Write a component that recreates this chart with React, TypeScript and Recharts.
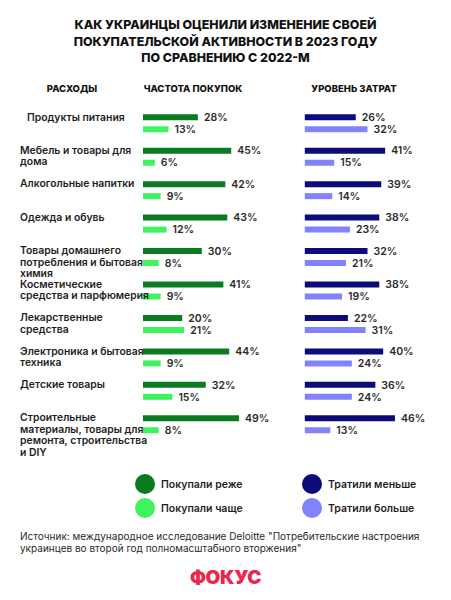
import { BarChart, Bar, XAxis, YAxis, LabelList } from "recharts";

const categories = [
  "Продукты питания",
  "Мебель и товары для\nдома",
  "Алкогольные напитки",
  "Одежда и обувь",
  "Товары домашнего\nпотребления и бытовая\nхимия",
  "Косметические\nсредства и парфюмерия",
  "Лекарственные\nсредства",
  "Электроника и бытовая\nтехника",
  "Детские товары",
  "Строительные\nматериалы, товары для\nремонта, строительства\nи DIY",
];

const boughtLess = [28, 45, 42, 43, 30, 41, 20, 44, 32, 49];
const boughtMore = [13, 6, 9, 12, 8, 9, 21, 9, 15, 8];
const spentLess = [26, 41, 39, 38, 32, 38, 22, 40, 36, 46];
const spentMore = [32, 15, 14, 23, 21, 19, 31, 24, 24, 13];

const titleLines = [
  "КАК УКРАИНЦЫ ОЦЕНИЛИ ИЗМЕНЕНИЕ СВОЕЙ",
  "ПОКУПАТЕЛЬСКОЙ АКТИВНОСТИ В 2023 ГОДУ",
  "ПО СРАВНЕНИЮ С 2022-М",
];
const headers = ["РАСХОДЫ", "ЧАСТОТА ПОКУПОК", "УРОВЕНЬ ЗАТРАТ"];
const sourceText =
  'Источник: международное исследование Deloitte "Потребительские настроения украинцев во второй год полномасштабного вторжения"';

const COLORS = {
  boughtLess: "#0b7b22",
  boughtMore: "#3ff35e",
  spentLess: "#0b0b7a",
  spentMore: "#8282fa",
};

const leftSeries = [
  { key: "boughtLess", name: "Покупали реже", color: COLORS.boughtLess },
  { key: "boughtMore", name: "Покупали чаще", color: COLORS.boughtMore },
];
const rightSeries = [
  { key: "spentLess", name: "Тратили меньше", color: COLORS.spentLess },
  { key: "spentMore", name: "Тратили больше", color: COLORS.spentMore },
];

const data = categories.map((name, i) => ({
  name,
  boughtLess: boughtLess[i],
  boughtMore: boughtMore[i],
  spentLess: spentLess[i],
  spentMore: spentMore[i],
}));

const FONT = "Inter, 'Noto Sans', sans-serif";
const TOP = 106.3;
const BOTTOM = 600 - 440.7;

function CategoryTick({ y, payload }: any) {
  const lines = String(payload.value).split("\n");
  return (
    <text x={20} y={y - 2.5} fontSize={10.4} fontWeight={600} fill="#1e1e1e" fontFamily={FONT}>
      {lines.map((l, i) => (
        <tspan key={i} x={payload.index === 0 ? 27 : 20} dy={i === 0 ? 0 : 11.5}>
          {l}
        </tspan>
      ))}
    </text>
  );
}

function LegendBlock({ items, left }: { items: typeof leftSeries; left: number }) {
  return (
    <div style={{ position: "absolute", left, top: 474, display: "flex", flexDirection: "column", gap: 4 }}>
      {items.map((p) => (
        <div key={p.name} style={{ display: "flex", alignItems: "center", height: 20 }}>
          <span
            style={{
              width: 20,
              height: 20,
              borderRadius: 10,
              background: p.color,
              display: "inline-block",
              marginRight: 6,
            }}
          />
          <span style={{ fontSize: 10.5, fontWeight: 600, color: "#1e1e1e" }}>{p.name}</span>
        </div>
      ))}
    </div>
  );
}

const pct = (v: any) => `${v}%`;
const labelStyle = { fontSize: 10.5, fontWeight: 600, fill: "#2a2a2a", fontFamily: FONT };

function Pair({
  series,
  width,
  left,
  right,
  withLabels,
}: {
  series: typeof leftSeries;
  width: number;
  left: number;
  right: number;
  withLabels: boolean;
}) {
  return (
    <div style={{ position: "absolute", left: 0, top: 0 }}>
      <BarChart
        width={width}
        height={600}
        data={data}
        layout="vertical"
        barSize={6}
        barGap={6}
        margin={{ top: TOP, bottom: BOTTOM, left, right }}
      >
        <XAxis type="number" domain={[0, 60]} hide />
        {withLabels ? (
          <YAxis
            type="category"
            dataKey="name"
            width={143}
            axisLine={false}
            tickLine={false}
            tick={<CategoryTick />}
            interval={0}
          />
        ) : (
          <YAxis type="category" dataKey="name" hide />
        )}
        {series.map((s) => (
          <Bar key={s.key} dataKey={s.key} name={s.name} fill={s.color} isAnimationActive={false}>
            <LabelList dataKey={s.key} position="right" offset={6} formatter={pct} style={labelStyle} />
          </Bar>
        ))}
      </BarChart>
    </div>
  );
}

export default function App() {
  return (
    <div
      style={{
        position: "absolute",
        left: 0,
        top: 0,
        width: 451,
        height: 600,
        background: "#fff",
        fontFamily: FONT,
        overflow: "hidden",
      }}
    >
      <div
        style={{
          position: "absolute",
          top: 17,
          left: 0,
          width: 451,
          textAlign: "center",
          fontSize: 12.4,
          fontWeight: 800,
          lineHeight: "16.5px",
          color: "#111",
        }}
      >
        {titleLines.map((t) => (
          <div key={t}>{t}</div>
        ))}
      </div>
      {headers.map((h, i) => (
        <div
          key={h}
          style={{
            position: "absolute",
            top: 83,
            left: [72, 193, 354][i] - 70,
            width: 140,
            textAlign: "center",
            fontSize: 9.5,
            fontWeight: 800,
            color: "#111",
          }}
        >
          {h}
        </div>
      ))}

      <Pair series={leftSeries} width={300} left={0} right={39.4} withLabels />
      <Pair series={rightSeries} width={451} left={304.8} right={28.6} withLabels={false} />

      <LegendBlock items={leftSeries} left={135} />
      <LegendBlock items={rightSeries} left={302} />

      <div
        style={{
          position: "absolute",
          left: 20,
          top: 531,
          width: 400,
          fontSize: 10,
          lineHeight: "11.5px",
          color: "#2a2a2a",
        }}
      >
        {sourceText}
      </div>
      <div
        style={{
          position: "absolute",
          top: 566,
          left: 0,
          width: 451,
          textAlign: "center",
          fontSize: 19,
          fontWeight: 900,
          color: "#e8284c",
          letterSpacing: -0.3,
        }}
      >
        ФОКУС
      </div>
    </div>
  );
}
